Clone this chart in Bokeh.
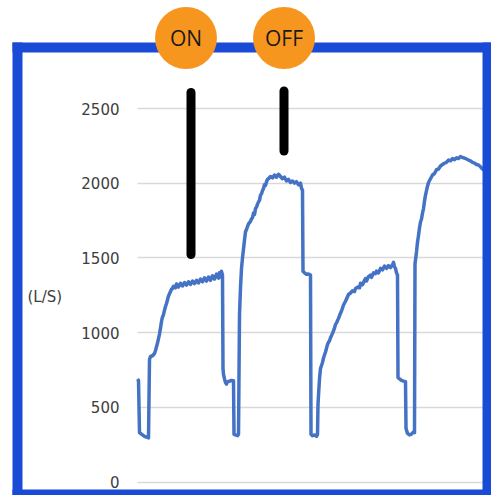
from bokeh.plotting import figure
from bokeh.models import Range1d, FixedTicker, Label
from bokeh.embed import file_html
from bokeh.resources import INLINE
from bokeh.core.properties import value

# ---- data (time in arbitrary units, flow in L/S) ----
t_cycle1 = [0, 1, 2, 4, 7, 10, 11, 12, 13, 15, 17, 18, 19, 20, 21, 22, 23, 24, 25, 26,
            27, 28, 29, 30, 31, 32, 33, 34, 35, 36, 38, 39, 41, 43, 45, 47, 49, 51, 53, 55,
            57, 59, 61, 63, 65, 67, 69, 71, 73, 75, 77, 79, 81, 82, 83, 84, 85, 85.5, 86, 87,
            88, 89, 90, 92, 94, 96, 96.5, 98, 100, 101]
q_cycle1 = [690, 680, 330, 320, 305, 300, 295, 820, 840, 845, 860, 880, 905, 930, 960, 990, 1030, 1075, 1105, 1120,
            1150, 1175, 1195, 1220, 1245, 1260, 1275, 1290, 1295, 1310, 1300, 1325, 1305, 1330, 1312, 1335, 1318, 1340, 1322, 1345,
            1328, 1350, 1332, 1358, 1340, 1366, 1345, 1372, 1350, 1380, 1358, 1392, 1365, 1400, 1372, 1410, 1385, 760, 720, 690,
            665, 655, 670, 675, 680, 678, 320, 315, 310, 320]

t_cycle2 = [102, 103, 104, 105, 106, 107, 108, 109, 110, 111, 113, 114, 115, 116, 117, 118, 119, 120, 121, 122,
            123, 124, 125, 126, 127, 128, 129, 130, 131, 133, 135, 137, 139, 141, 143, 145, 147, 149, 151, 153,
            155, 157, 159, 161, 163, 164, 165, 165.5, 167, 169, 171, 173, 173.5, 175, 177, 179, 180]
q_cycle2 = [1120, 1300, 1430, 1500, 1560, 1620, 1675, 1690, 1710, 1728, 1745, 1762, 1770, 1800, 1790, 1830, 1840, 1860, 1875, 1885,
            1920, 1930, 1950, 1965, 1990, 1985, 2010, 2025, 2030, 2045, 2035, 2055, 2040, 2060, 2045, 2030, 2040, 2015, 2025, 2005,
            2015, 2000, 2010, 1990, 2000, 1965, 1955, 1410, 1400, 1390, 1392, 1385, 320, 310, 315, 305, 320]

t_cycle3 = [180.5, 181, 182, 183, 184, 185, 186, 187, 188, 189, 190, 191, 192, 193, 195, 197, 198, 199, 201, 203,
            204, 206, 208, 209, 211, 213, 215, 217, 218, 220, 222, 223, 225, 227, 228, 229, 231, 233, 234, 236,
            238, 239, 241, 243, 245, 247, 249, 251, 253, 255, 256, 257, 258, 259, 260, 260.5, 262, 264, 266, 268,
            268.5, 270, 272, 274, 276, 277]
q_cycle3 = [520, 580, 690, 760, 780, 800, 830, 850, 870, 895, 920, 935, 945, 965, 995, 1030, 1055, 1065, 1095, 1130,
            1145, 1185, 1210, 1225, 1255, 1265, 1280, 1275, 1295, 1305, 1300, 1330, 1320, 1350, 1362, 1345, 1375, 1385, 1370, 1400,
            1395, 1412, 1400, 1430, 1420, 1445, 1430, 1448, 1435, 1455, 1470, 1440, 1430, 1400, 1385, 700, 690, 680, 675, 672,
            360, 325, 315, 320, 335, 330]

t_cycle4 = [277.5, 279, 280, 281, 282, 283, 284, 285, 286, 287, 288, 289, 290, 291, 293, 295, 297, 299, 301, 303,
            305, 307, 309, 311, 313, 315, 317, 319, 321, 323, 325, 327, 329, 331, 333, 335, 337, 339, 341, 343,
            345, 349, 353]
q_cycle4 = [1460, 1540, 1605, 1650, 1700, 1740, 1760, 1800, 1830, 1880, 1920, 1950, 1980, 2005, 2030, 2055, 2065, 2090, 2095, 2115,
            2125, 2135, 2140, 2155, 2150, 2165, 2158, 2170, 2165, 2178, 2172, 2168, 2162, 2155, 2150, 2140, 2135, 2125, 2122, 2110,
            2095, 2085, 2080]

y_ticks = [0, 500, 1000, 1500, 2000, 2500]
y_unit_label = "(L/S)"
marker_labels = ["ON", "OFF"]
bar_times = [53.5, 146.5]
badge_times = [48.5, 146.5]

time = t_cycle1 + t_cycle2 + t_cycle3 + t_cycle4
flow = q_cycle1 + q_cycle2 + q_cycle3 + q_cycle4
assert len(time) == len(flow)

# ---- figure ----
W, H = 491, 495
X0, X1 = -137, W - 137
PX_PER_UNIT = 0.1494
Y_ZERO_ROW = 481.5
Y0 = (Y_ZERO_ROW - H) / PX_PER_UNIT
Y1 = Y_ZERO_ROW / PX_PER_UNIT

p = figure(width=W, height=H, output_backend="svg", toolbar_location=None,
           x_range=Range1d(X0, X1), y_range=Range1d(Y0, Y1),
           x_axis_location=None, y_axis_location="left",
           min_border=0, min_border_left=0, min_border_right=0,
           min_border_top=0, min_border_bottom=0)
p.outline_line_color = None
p.background_fill_color = "white"
p.border_fill_color = "white"

ax = p.yaxis[0]
ax.fixed_location = 0
ax.ticker = FixedTicker(ticks=y_ticks)
ax.axis_line_color = None
ax.major_tick_line_color = None
ax.minor_tick_line_color = None
ax.major_tick_out = 0
ax.major_tick_in = 0
ax.major_label_standoff = 18
ax.major_label_text_font = "DejaVu Sans"
ax.major_label_text_font_size = "15px"
ax.major_label_text_color = "#3d3d3d"

p.ygrid.ticker = FixedTicker(ticks=y_ticks)
p.ygrid.grid_line_color = "#d9d9d9"
p.ygrid.grid_line_width = 1.5
p.xgrid.visible = False

def sx(px):
    # pixel column -> data x (decorations only)
    return px - 137

def sy(py):
    # pixel row -> data value (decorations only)
    return (Y_ZERO_ROW - py) / PX_PER_UNIT

# white cover left of the plotting area (hides grid there)
p.quad(left=X0, right=0, bottom=Y0, top=Y1, fill_color="white", line_color=None)

# data line
p.line(time, flow, line_color="#4472C4", line_width=3.5, line_join="round")

# blue frame
blue = "#1A4BD6"
p.quad(left=[sx(12), sx(12), sx(482), sx(12)],
       right=[sx(22), X1, X1, X1],
       bottom=[Y0, sy(52), Y0, Y0],
       top=[sy(42), sy(42), sy(42), sy(489)],
       fill_color=blue, line_color=None)

# black marker bars
p.segment(x0=bar_times, x1=bar_times, y0=[sy(92), sy(90.5)], y1=[sy(254), sy(150.5)],
          line_color="black", line_width=9, line_cap="round")

# orange circles with labels
p.scatter(x=badge_times, y=[sy(37.5), sy(37.5)], marker="circle", size=62,
          fill_color="#F7961F", line_color=None)
p.text(x=badge_times, y=[sy(37), sy(37)], text=marker_labels,
       text_align="center", text_baseline="middle",
       text_font=value("Open Sans"), text_font_size="21px", text_color="#1a1a1a")

p.add_layout(Label(x=sx(27), y=sy(296), text=y_unit_label, text_align="left",
                   text_baseline="middle", text_font="DejaVu Sans",
                   text_font_size="15px", text_color="#3d3d3d"))

open("out.html", "w").write(file_html(p, INLINE))
